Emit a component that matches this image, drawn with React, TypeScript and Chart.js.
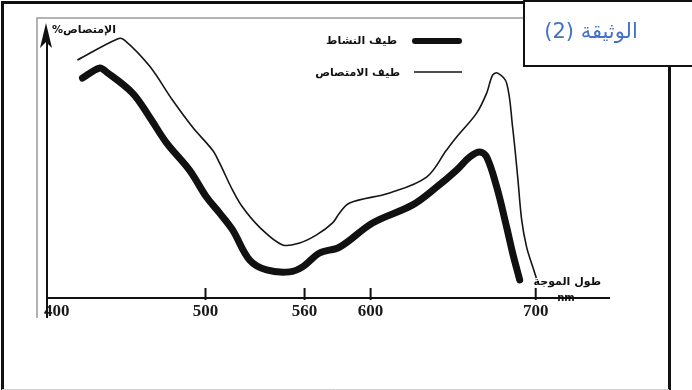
import React, { useEffect, useRef } from "react";
import { Chart, registerables } from "chart.js";

Chart.register(...registerables);

// Absorption spectrum (thin line)
const absWavelength = [422.4, 446.7, 450.9, 466, 480, 492.1, 504.2, 508.5, 516.4, 522.4, 532.7, 546.7, 557, 567.3, 577, 581.2, 587.3, 611.5, 633.9, 646, 652.1, 664.2, 670.3, 673.9, 677, 682.4, 686, 689.1, 691.5, 694.5, 698.2, 700.4];
const absValue = [85.6, 93.2, 92.8, 83.5, 71.2, 61.5, 53.2, 48.6, 38.8, 32.7, 25.5, 19.1, 19.8, 22.7, 27, 30.6, 34.2, 37.8, 43.5, 53.2, 57.9, 66.5, 73.7, 80.2, 80.9, 77.3, 61.5, 43.5, 28.1, 18.3, 11.2, 7.2];

// Action spectrum (thick line)
const actWavelength = [425.5, 435.8, 440, 455.8, 466.1, 476.4, 490.3, 500.6, 508.5, 516.4, 526.7, 537, 550.9, 558.8, 569.1, 581.2, 601.2, 625.5, 640, 652.1, 660, 666.1, 670.3, 676.4, 682.4, 686, 690.3];
const actValue = [79.1, 82.7, 81.3, 73.7, 65.1, 55.8, 46, 36.3, 30.6, 24.5, 13.7, 10.1, 9.4, 11.2, 16.2, 18.3, 27, 33.5, 39.9, 46, 50.7, 52.5, 50.7, 39.9, 25.5, 16.2, 6.5];

const tickValues = [400, 500, 560, 600, 700];
const tickLabels = ["400", "500", "560", "600", "700"];

const seriesNames = ["طيف النشاط", "طيف الامتصاص"];
const yTitle = "الإمتصاص%";
const xTitle = "طول الموجة";
const unitLabel = "nm";
const docTitle = "الوثيقة (2)";

const X_MIN = 404;
const X_MAX = 745;

const decor = {
  id: "decor",
  beforeDatasetsDraw(chart: any) {
    const ctx = chart.ctx as CanvasRenderingContext2D;
    const xs = chart.scales.x;
    const ys = chart.scales.y;
    const area = chart.chartArea;
    const y0 = ys.getPixelForValue(0);
    ctx.save();
    // scan frame grey lines
    ctx.strokeStyle = "#9a9a9a";
    ctx.lineWidth = 1.5;
    ctx.beginPath();
    ctx.moveTo(37, 318);
    ctx.lineTo(37, 18);
    ctx.lineTo(523, 18);
    ctx.stroke();
    // x axis
    ctx.strokeStyle = "#111";
    ctx.lineWidth = 2;
    ctx.beginPath();
    ctx.moveTo(area.left, y0);
    ctx.lineTo(area.right, y0);
    ctx.stroke();
    // y axis
    ctx.beginPath();
    ctx.moveTo(area.left, 318);
    ctx.lineTo(area.left, 40);
    ctx.stroke();
    // arrow head
    ctx.fillStyle = "#111";
    ctx.beginPath();
    ctx.moveTo(area.left - 1, 23);
    ctx.lineTo(area.left - 7, 48);
    ctx.lineTo(area.left - 1, 42);
    ctx.lineTo(area.left + 5, 48);
    ctx.closePath();
    ctx.fill();
    // ticks & labels
    ctx.font = "bold 17px 'Liberation Serif'";
    ctx.fillStyle = "#1a1a1a";
    ctx.textBaseline = "middle";
    tickValues.forEach((v, i) => {
      const px = xs.getPixelForValue(v);
      if (v > X_MIN) {
        ctx.beginPath();
        ctx.moveTo(px, y0 - 10);
        ctx.lineTo(px, y0 + 2);
        ctx.stroke();
        ctx.textAlign = "center";
        ctx.fillText(tickLabels[i], px, 312);
      } else {
        ctx.textAlign = "left";
        ctx.fillText(tickLabels[i], area.left - 3, 312);
      }
    });
    ctx.restore();
  },
  afterDraw(chart: any) {
    const ctx = chart.ctx as CanvasRenderingContext2D;
    const area = chart.chartArea;
    ctx.save();
    ctx.fillStyle = "#111";
    ctx.strokeStyle = "#111";
    ctx.direction = "rtl";
    ctx.textBaseline = "middle";
    ctx.font = "bold 11px 'DejaVu Sans'";
    ctx.textAlign = "left";
    // y title
    ctx.fillText(yTitle, 52, 30);
    // legend
    ctx.textAlign = "right";
    ctx.fillText(seriesNames[0], 397, 41);
    ctx.fillText(seriesNames[1], 400, 73);
    ctx.lineCap = "round";
    ctx.lineWidth = 6;
    ctx.beginPath();
    ctx.moveTo(415, 41);
    ctx.lineTo(459, 41);
    ctx.stroke();
    ctx.lineCap = "butt";
    ctx.lineWidth = 1.5;
    ctx.beginPath();
    ctx.moveTo(414, 72);
    ctx.lineTo(462, 72);
    ctx.stroke();
    // x title
    ctx.textAlign = "right";
    ctx.fillText(xTitle, 601, 282);
    ctx.direction = "ltr";
    ctx.textAlign = "center";
    ctx.font = "bold 10px 'DejaVu Sans'";
    ctx.fillText(unitLabel, 566, area.bottom);

    // page frame
    ctx.lineWidth = 3;
    ctx.beginPath();
    ctx.moveTo(2.5, 390);
    ctx.lineTo(2.5, 2.5);
    ctx.lineTo(523, 2.5);
    ctx.stroke();
    ctx.beginPath();
    ctx.moveTo(669.5, 66);
    ctx.lineTo(669.5, 390);
    ctx.stroke();
    ctx.strokeStyle = "#d0d0d0";
    ctx.lineWidth = 1;
    ctx.beginPath();
    ctx.moveTo(2, 389.5);
    ctx.lineTo(669, 389.5);
    ctx.stroke();
    // doc box
    ctx.fillStyle = "#fff";
    ctx.fillRect(523, 1, 169, 65);
    ctx.strokeStyle = "#111";
    ctx.lineWidth = 2;
    ctx.strokeRect(524, 1, 170, 65);
    ctx.fillStyle = "#4472C4";
    ctx.font = "21px 'DejaVu Sans'";
    ctx.direction = "rtl";
    ctx.textAlign = "center";
    ctx.fillText(docTitle, 591, 33);
    ctx.restore();
  },
};

export default function App() {
  const ref = useRef<HTMLCanvasElement | null>(null);
  useEffect(() => {
    document.body.style.margin = "0";
    const canvas = ref.current!;
    const chart = new Chart(canvas, {
      type: "line",
      data: {
        datasets: [
          {
            label: seriesNames[1],
            data: absWavelength.map((x, i) => ({ x, y: absValue[i] })),
            borderColor: "#151515",
            borderWidth: 1.6,
            pointRadius: 0,
            tension: 0.35,
            fill: false,
          },
          {
            label: seriesNames[0],
            data: actWavelength.map((x, i) => ({ x, y: actValue[i] })),
            borderColor: "#111",
            borderWidth: 7,
            pointRadius: 0,
            tension: 0.35,
            borderCapStyle: "round",
            borderJoinStyle: "round",
            fill: false,
          },
        ],
      },
      options: {
        responsive: false,
        animation: false,
        devicePixelRatio: 1,
        layout: { padding: { left: 47, right: 82, top: 20, bottom: 92 } },
        plugins: { legend: { display: false }, tooltip: { enabled: false } },
        scales: {
          x: { type: "linear", min: X_MIN, max: X_MAX, display: false },
          y: { type: "linear", min: 0, max: 100, display: false },
        },
      },
      plugins: [decor],
    });
    return () => chart.destroy();
  }, []);
  return (
    <div style={{ position: "fixed", left: 0, top: 0, width: 692, height: 390, background: "#fff" }}>
      <canvas ref={ref} width={692} height={390} style={{ display: "block" }} />
    </div>
  );
}
